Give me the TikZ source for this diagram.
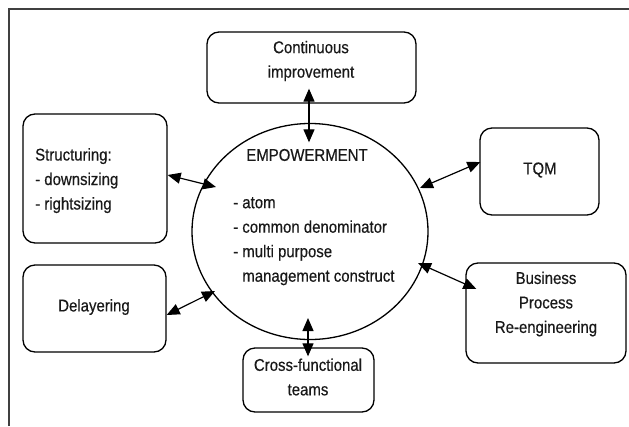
\documentclass[tikz,border=0pt]{standalone}
\usepackage{fontspec}
\setmainfont[FakeStretch=0.88,FakeBold=0.5]{Liberation Sans}
\usetikzlibrary{arrows.meta,shapes.geometric,calc}
\begin{document}
\begin{tikzpicture}[x=1pt,y=-1pt,
  every node/.style={font=\fontsize{17}{24.5}\selectfont, text=black!90},
  box/.style={draw, line width=1.3pt, rounded corners=12pt, inner sep=0pt},
  txt/.style={inner sep=0pt, align=center},
  link/.style={line width=1.2pt, {Triangle[length=13pt,width=11pt]}-{Triangle[length=13pt,width=11pt]}}]
\useasboundingbox (0,0) rectangle (629,426);
% outer frame (only top and left edges are visible)
\draw[line width=1.1pt, black!75] (9,426) -- (9,9) -- (629,9);

% central ellipse
\node[draw, ellipse, line width=1.3pt, minimum width=236pt, minimum height=216pt, inner sep=0pt] (emp) at (310,231.5) {};
\node[txt] (empt) at (307,155) {EMPOWERMENT};
\node[inner sep=0pt, align=left, anchor=north west] (empl) at (233,197)
  {- atom\\- common denominator\\- multi purpose\\\hphantom{- }management construct};

% surrounding boxes
\node[box, minimum width=209pt, minimum height=71pt] (ci) at (311.5,67.5) {};
\node[txt] (cit) at (311,61) {Continuous\\improvement};

\node[box, minimum width=144pt, minimum height=129pt] (str) at (95,178.5) {};
\node[inner sep=0pt, align=left, anchor=north west] (strt) at (35,148)
  {Structuring:\\- downsizing\\- rightsizing};

\node[box, minimum width=119pt, minimum height=87pt] (tqm) at (539.5,171.5) {};
\node[txt] (tqmt) at (540,170) {TQM};

\node[box, minimum width=143pt, minimum height=87pt] (del) at (94.5,308.5) {};
\node[txt] (delt) at (94,307) {Delayering};

\node[box, minimum width=131pt, minimum height=64pt] (cf) at (308.5,380) {};
\node[txt] (cft) at (308,377) {Cross-functional\\teams};

\node[box, minimum width=160pt, minimum height=100pt] (bpr) at (546,313) {};
\node[txt] (bprt) at (546,304) {Business\\Process\\Re-engineering};

% two-headed connectors
\draw[link] ($(ci.south)+(-2.5,-15)$) -- ($(emp.north)+(-1,19.5)$);
\draw[link] ($(str.east)+(0,-3.5)$) -- ($(emp.center)+(-94,-44.5)$);
\draw[link] ($(del.east)+(0,6.5)$) -- ($(emp.center)+(-95,59.5)$);
\draw[link] ($(cf.north)+(-0.5,9)$) -- ($(emp.center)+(-2,86.5)$);
\draw[link] ($(tqm.west)+(1,-9.5)$) -- ($(emp.center)+(110,-43.5)$);
\draw[link] ($(bpr.west)+(11,-24)$) -- ($(emp.center)+(108,31.5)$);
\end{tikzpicture}
\end{document}
